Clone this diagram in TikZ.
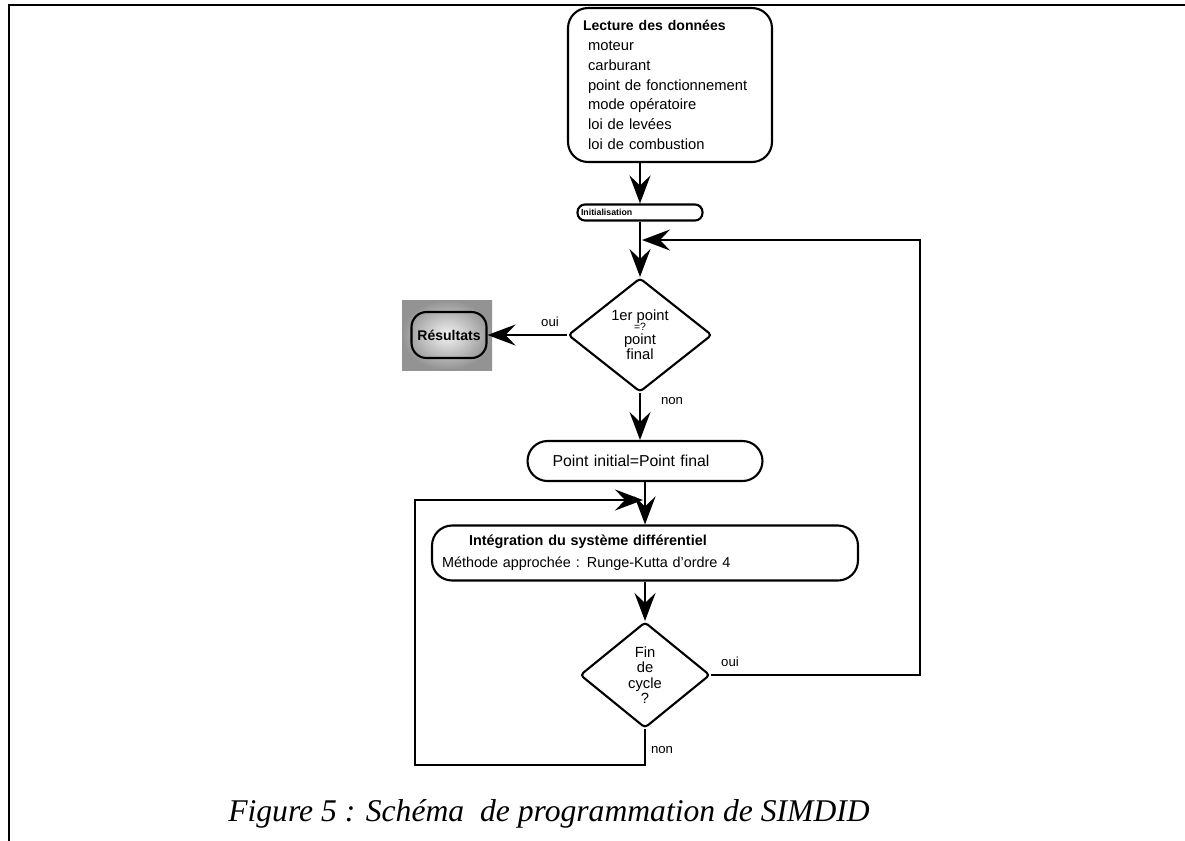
\documentclass[tikz,border=0pt]{standalone}
\usepackage{fontspec}
\setmainfont{Liberation Sans}
\newfontfamily\captionfont{Liberation Serif}
\usetikzlibrary{arrows.meta,positioning,shapes.geometric}

\begin{document}
\begin{tikzpicture}[
  x=0.02cm, y=-0.02cm,
  flowbox/.style={
    draw,
    line width=1.2pt,
    rounded corners=0.4cm,
    font=\fontsize{8.4}{11.3}\selectfont
  },
  choice/.style={
    draw,
    diamond,
    line width=1.2pt,
    rounded corners=2pt,
    inner sep=0pt,
    align=center,
    font=\fontsize{8.4}{8.8}\selectfont
  },
  flow/.style={line width=1.3pt, -{Stealth[length=0.56cm,width=0.42cm,inset=0.2cm]}},
  lbl/.style={font=\fontsize{7.5}{9}\selectfont, inner sep=1pt}
]
  \useasboundingbox (0,0) rectangle (1185,840);
  % frame, cut at the right and bottom
  \draw[line width=1.3pt] (9,850) -- (9,5) -- (1195,5);

  \node[flowbox,minimum width=4.08cm,minimum height=3.08cm,
    text width=3.48cm,inner xsep=0.3cm,align=left] (lecture) at (670,85)
    {{\fontsize{8}{11.3}\selectfont\textbf{Lecture des données}}\\
     \hspace*{0.1cm}moteur\\
     \hspace*{0.1cm}carburant\\
     \hspace*{0.1cm}point de fonctionnement\\
     \hspace*{0.1cm}mode opératoire\\
     \hspace*{0.1cm}loi de levées\\
     \hspace*{0.1cm}loi de combustion};
  \node[draw,line width=1.2pt,rounded corners=0.15cm,minimum width=2.5cm,
    minimum height=0.32cm,inner sep=0pt,text width=2.36cm,inner xsep=0.07cm,
    align=left,font=\fontsize{5}{5}\selectfont\bfseries] (init) at (640,212.5)
    {Initialisation};
  \node[choice,minimum width=2.88cm,minimum height=2.28cm] (first) at (640,335)
    {1er point\\[-3pt]{\fontsize{6}{6}\selectfont =?}\\[-1pt]point\\final};

  % results
  \node[minimum width=1.8cm,minimum height=1.4cm,
    inner color=gray!10,outer color=gray!85] (resbg) at (447,335) {};
  \node[draw,line width=1.2pt,rounded corners=0.3cm,minimum width=1.48cm,
    minimum height=0.92cm,font=\fontsize{8}{8}\selectfont\bfseries] (res)
    at (449,335) {Résultats};

  \node[flowbox,minimum width=4.7cm,minimum height=0.8cm,
    text width=3.7cm,inner xsep=0.5cm,align=left,
    font=\fontsize{9}{9}\selectfont] (pinit) at (645,461)
    {Point initial=Point final};
  \node[flowbox,minimum width=8.52cm,minimum height=1.1cm,
    text width=8.12cm,inner xsep=0.2cm,align=left,
    font=\fontsize{8.2}{12.5}\selectfont] (integ) at (645,553)
    {\hspace*{0.54cm}\textbf{Intégration du système différentiel}\\
     Méthode approchée : Runge-Kutta d'ordre 4};
  \node[choice,minimum width=2.6cm,minimum height=2.12cm] (fin) at (645,675)
    {Fin\\de\\cycle\\?};

  \node[lbl] (oui1) at (550,322) {oui};
  \node[lbl] (non1) at (672,401) {non};
  \node[lbl] (oui2) at (730,662) {oui};
  \node[lbl] (non2) at (662,750) {non};

  \coordinate (backR) at (642,240);
  \coordinate (loopR) at (920,240);
  \coordinate (backL) at (643,500);
  \coordinate (loopL) at (415,500);
  \coordinate (loopB) at (415,765);

  \draw[flow] (lecture.south -| init.north) -- (init.north);
  \draw[flow] (init.south) -- (first.north);
  \draw[flow] (first.west) -- (res.east);
  \draw[flow] (first.south) -- (first.south |- pinit.north);
  \draw[flow] (pinit.south) -- (integ.north);
  \draw[flow] (integ.south) -- (fin.north);
  \draw[flow] (fin.east) -| (loopR) -- (backR);
  \draw[flow] (fin.south) |- (loopB) -- (loopL) -- (backL);

  \node[font=\captionfont\itshape\fontsize{18}{18}\selectfont] (caption)
    at (549,814) {Figure 5 : Schéma\ \ de programmation de SIMDID};
\end{tikzpicture}
\end{document}
